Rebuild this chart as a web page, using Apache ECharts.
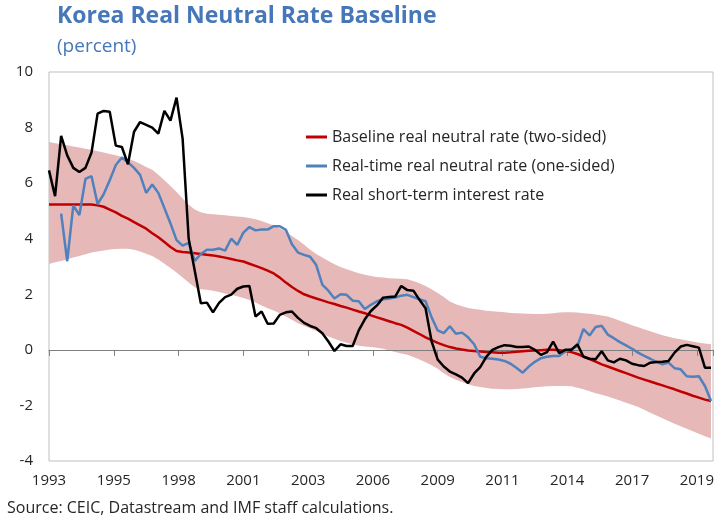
<!DOCTYPE html>
<html>
<head>
<meta charset="utf-8">
<script src="https://cdn.jsdelivr.net/npm/echarts@6.0.0/dist/echarts.min.js"></script>
<style>
html, body { margin: 0; padding: 0; background: #fff; }
#chart { width: 717px; height: 522px; }
</style>
</head>
<body>
<div id="chart"></div>
<script>
// quarterly data, 1993Q1 .. 2020Q2 (index i -> month 3*i after Jan 1993)
var tickYears = [1993, 1995, 1998, 2001, 2003, 2006, 2009, 2011, 2014, 2017, 2019];

var baselineRate = [
    5.23, 5.23, 5.23, 5.23, 5.23, 5.23, 5.23, 5.23, 5.2, 5.15,
    5.05, 4.95, 4.82, 4.72, 4.6, 4.48, 4.36, 4.2, 4.05, 3.88,
    3.7, 3.56, 3.52, 3.5, 3.48, 3.45, 3.42, 3.4, 3.36, 3.32,
    3.27, 3.22, 3.18, 3.1, 3.02, 2.94, 2.85, 2.75, 2.6, 2.42,
    2.26, 2.12, 2.0, 1.92, 1.85, 1.78, 1.71, 1.65, 1.58, 1.52,
    1.45, 1.38, 1.32, 1.24, 1.17, 1.1, 1.03, 0.96, 0.9, 0.8,
    0.68, 0.57, 0.45, 0.35, 0.25, 0.17, 0.1, 0.05, 0.01, -0.02,
    -0.04, -0.06, -0.08, -0.09, -0.1, -0.1, -0.09, -0.07, -0.05, -0.03,
    -0.02, -0.01, 0, 0, -0.01, -0.04, -0.08, -0.15, -0.24, -0.33,
    -0.42, -0.52, -0.6, -0.68, -0.76, -0.84, -0.92, -1.0, -1.07, -1.14,
    -1.21, -1.28, -1.35, -1.42, -1.5, -1.57, -1.65, -1.72, -1.79, -1.84
];

var bandUpper = [
    7.48, 7.44, 7.4, 7.36, 7.32, 7.28, 7.24, 7.2, 7.15, 7.1,
    7.05, 7.0, 6.94, 6.88, 6.8, 6.7, 6.58, 6.48, 6.3, 6.1,
    5.9, 5.68, 5.45, 5.22, 5.05, 4.95, 4.9, 4.88, 4.86, 4.84,
    4.82, 4.8, 4.78, 4.75, 4.7, 4.64, 4.56, 4.48, 4.38, 4.25,
    4.1, 3.95, 3.78, 3.6, 3.45, 3.32, 3.2, 3.08, 2.98, 2.9,
    2.83, 2.76, 2.7, 2.66, 2.62, 2.6, 2.58, 2.57, 2.56, 2.54,
    2.48, 2.4, 2.3, 2.18, 2.05, 1.9, 1.74, 1.64, 1.57, 1.51,
    1.47, 1.44, 1.41, 1.39, 1.37, 1.35, 1.33, 1.32, 1.31, 1.3,
    1.29, 1.29, 1.3, 1.32, 1.34, 1.35, 1.35, 1.34, 1.32, 1.3,
    1.27, 1.24, 1.2, 1.13, 1.05, 0.97, 0.89, 0.81, 0.74, 0.67,
    0.6, 0.53, 0.47, 0.42, 0.38, 0.34, 0.3, 0.26, 0.23, 0.2
];

var bandLower = [
    3.09, 3.15, 3.2, 3.26, 3.32, 3.38, 3.44, 3.5, 3.54, 3.58,
    3.61, 3.63, 3.64, 3.64, 3.6, 3.54, 3.46, 3.38, 3.25, 3.1,
    2.95, 2.78, 2.6, 2.42, 2.25, 2.18, 2.16, 2.13, 2.08, 2.03,
    1.98, 1.93, 1.87, 1.79, 1.7, 1.6, 1.5, 1.42, 1.32, 1.2,
    1.08, 0.96, 0.86, 0.78, 0.68, 0.58, 0.48, 0.4, 0.32, 0.26,
    0.2, 0.15, 0.12, 0.1, 0.08, 0.04, -0.02, -0.08, -0.13, -0.18,
    -0.26, -0.35, -0.45, -0.55, -0.68, -0.84, -0.98, -1.08, -1.16, -1.24,
    -1.3, -1.34, -1.37, -1.4, -1.41, -1.42, -1.42, -1.41, -1.39, -1.37,
    -1.35, -1.33, -1.31, -1.3, -1.3, -1.3, -1.31, -1.36, -1.42, -1.49,
    -1.56, -1.62, -1.68, -1.75, -1.82, -1.9, -1.98, -2.06, -2.16, -2.26,
    -2.36, -2.46, -2.56, -2.66, -2.75, -2.84, -2.93, -3.02, -3.11, -3.19
];

var realTimeRate = [
    null, null, 4.9, 3.19, 5.2, 4.85, 6.15, 6.25, 5.25, 5.6,
    6.1, 6.65, 6.92, 6.75, 6.55, 6.3, 5.65, 5.95, 5.65, 5.1,
    4.55, 3.95, 3.75, 3.85, 3.2, 3.45, 3.6, 3.6, 3.65, 3.57,
    4.0, 3.78, 4.22, 4.42, 4.3, 4.33, 4.33, 4.45, 4.45, 4.32,
    3.8, 3.5, 3.42, 3.35, 3.05, 2.35, 2.13, 1.85, 2.0, 1.98,
    1.77, 1.75, 1.47, 1.62, 1.75, 1.82, 1.85, 1.88, 1.95, 1.98,
    1.9, 1.82, 1.75, 1.17, 0.7, 0.6, 0.85, 0.58, 0.62, 0.45,
    0.2, -0.25, -0.3, -0.32, -0.35, -0.4, -0.5, -0.65, -0.82, -0.6,
    -0.43, -0.3, -0.25, -0.22, -0.22, -0.05, 0.02, 0.14, 0.75, 0.52,
    0.82, 0.87, 0.55, 0.42, 0.28, 0.16, 0.04, -0.1, -0.22, -0.32,
    -0.43, -0.52, -0.46, -0.66, -0.7, -0.95, -0.97, -0.95, -1.3, -1.84
];

var shortTermRate = [
    6.46, 5.53, 7.7, 7.0, 6.55, 6.4, 6.55, 7.1, 8.5, 8.6,
    8.57, 7.35, 7.3, 6.68, 7.85, 8.2, 8.1, 8.0, 7.78, 8.6,
    8.25, 9.08, 7.6, 4.0, 2.85, 1.68, 1.7, 1.35, 1.69, 1.9,
    1.99, 2.2, 2.28, 2.3, 1.2, 1.38, 0.94, 0.95, 1.26, 1.35,
    1.38, 1.15, 0.97, 0.86, 0.78, 0.6, 0.3, -0.04, 0.2, 0.14,
    0.14, 0.7, 1.1, 1.4, 1.6, 1.88, 1.9, 1.92, 2.3, 2.15,
    2.13, 1.8, 1.5, 0.3, -0.35, -0.6, -0.78, -0.88, -1.0, -1.2,
    -0.85, -0.62, -0.25, 0.0, 0.1, 0.17, 0.15, 0.1, 0.1, 0.12,
    0.0, -0.18, -0.08, 0.3, -0.12, 0.0, 0.0, 0.2, -0.25, -0.32,
    -0.34, -0.05, -0.38, -0.45, -0.32, -0.38, -0.5, -0.55, -0.58, -0.46,
    -0.44, -0.43, -0.4, -0.1, 0.12, 0.18, 0.13, 0.08, -0.64, -0.64
];

var seriesNames = [
    'Baseline real neutral rate (two-sided)',
    'Real-time real neutral rate (one-sided)',
    'Real short-term interest rate'
];

var font = '"Open Sans", "Noto Sans", sans-serif';

function toPoints(values) {
    var out = [];
    for (var i = 0; i < values.length; i++) {
        out.push([i * 3, values[i]]);
    }
    return out;
}

var chart = echarts.init(document.getElementById('chart'));

var option = {
    animation: false,
    backgroundColor: '#fff',
    title: [
        {
            text: 'Korea Real Neutral Rate Baseline',
            left: 52,
            top: 0,
            textStyle: { color: '#4677B8', fontSize: 23, fontWeight: 'bold', fontFamily: font }
        },
        {
            text: '(percent)',
            left: 52,
            top: 32,
            textStyle: { color: '#4677B8', fontSize: 19, fontWeight: 'normal', fontFamily: font }
        }
    ],
    graphic: [
        {
            type: 'text',
            left: 7,
            top: 500,
            style: {
                text: 'Source: CEIC, Datastream and IMF staff calculations.',
                fill: '#262626',
                fontSize: 16,
                fontFamily: font
            }
        }
    ],
    legend: {
        data: seriesNames,
        orient: 'vertical',
        left: 301,
        top: 122,
        icon: 'rect',
        itemWidth: 21,
        itemHeight: 3,
        itemGap: 9,
        textStyle: { fontSize: 16, color: '#262626', lineHeight: 20, fontFamily: font }
    },
    grid: {
        left: 49,
        right: 3,
        top: 72,
        bottom: 61,
        show: true,
        borderColor: '#bfbfbf',
        borderWidth: 1
    },
    xAxis: [
        {
            type: 'value',
            min: 0,
            max: 328,
            interval: 32,
            position: 'bottom',
            axisLine: { show: false, onZero: false },
            axisTick: { show: false },
            splitLine: { show: false },
            axisLabel: {
                fontSize: 15,
                color: '#262626',
                fontFamily: font,
                margin: 12,
                formatter: function (v) {
                    var k = v / 32;
                    return (k % 1 === 0 && tickYears[k] != null) ? String(tickYears[k]) : '';
                }
            }
        },
        {
            type: 'value',
            min: 0,
            max: 328,
            interval: 32,
            position: 'bottom',
            z: 2,
            axisLine: { show: true, onZero: true, lineStyle: { color: '#7f7f7f', width: 1 } },
            axisTick: { show: true, length: 6, lineStyle: { color: '#7f7f7f' } },
            splitLine: { show: false },
            axisLabel: { show: false }
        }
    ],
    yAxis: {
        type: 'value',
        min: -4,
        max: 10,
        interval: 2,
        axisLine: { show: false },
        axisTick: { show: false },
        splitLine: { show: false },
        axisLabel: { fontSize: 15, color: '#262626', fontFamily: font, margin: 16 }
    },
    series: [
        {
            type: 'custom',
            name: 'band',
            silent: true,
            z: 1,
            xAxisIndex: 0,
            data: [[0, 0]],
            renderItem: function (params, api) {
                var pts = [];
                var i;
                for (i = 0; i < bandUpper.length; i++) {
                    pts.push(api.coord([i * 3, bandUpper[i]]));
                }
                for (i = bandLower.length - 1; i >= 0; i--) {
                    pts.push(api.coord([i * 3, bandLower[i]]));
                }
                return {
                    type: 'polygon',
                    shape: { points: pts },
                    style: { fill: '#E6B8B8' }
                };
            }
        },
        {
            name: seriesNames[0],
            type: 'line',
            z: 3,
            data: toPoints(baselineRate),
            showSymbol: false,
            color: '#C00000',
            lineStyle: { color: '#C00000', width: 2.5 }
        },
        {
            name: seriesNames[1],
            type: 'line',
            z: 3,
            data: toPoints(realTimeRate),
            showSymbol: false,
            color: '#4F81BD',
            lineStyle: { color: '#4F81BD', width: 2.5 }
        },
        {
            name: seriesNames[2],
            type: 'line',
            z: 4,
            data: toPoints(shortTermRate),
            showSymbol: false,
            color: '#000000',
            lineStyle: { color: '#000000', width: 2.5 }
        }
    ]
};

chart.setOption(option);
</script>
</body>
</html>
